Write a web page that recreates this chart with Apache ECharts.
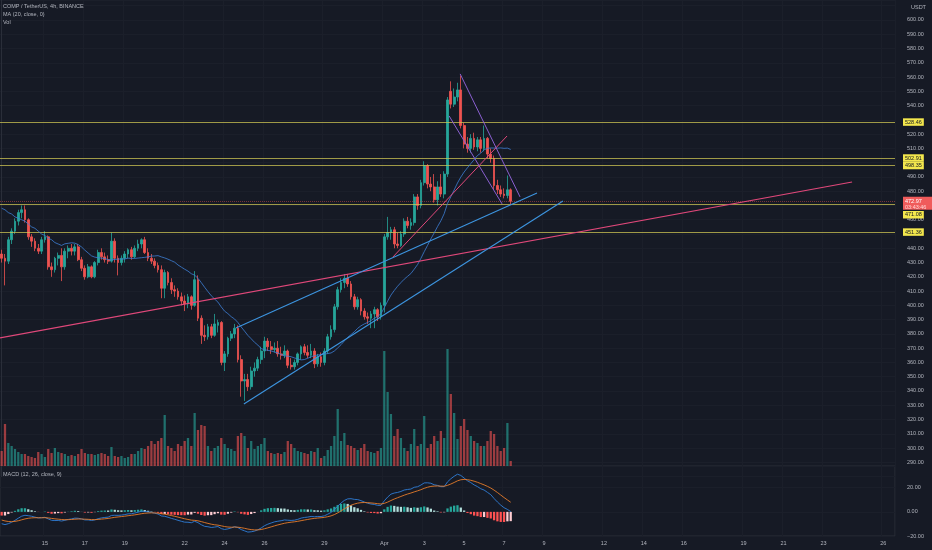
<!DOCTYPE html>
<html><head><meta charset="utf-8">
<script src="https://cdn.jsdelivr.net/npm/echarts@6/dist/echarts.min.js"></script>
<style>html,body{margin:0;padding:0;background:#161a25;}#c{width:932px;height:550px;}</style>
</head><body><div id="c"></div>
<script>
// ---- DATA ----
const opens  = [436,433,431,446,452,459,465,467,460,448,445,440,438,446,448,427,425,433,435,427,438,440,438,441,432,426,420,427,420,430,437,434,432,431,445,433,430,433,436,439,434,440,443,446,437,433,431,428,425,412,423,416,411,410,406,403,401,406,400,418,391,379,378,385,379,386,388,360,366,377,380,384,362,347,348,343,354,356,362,368,375,371,369,370,366,365,368,358,357,360,366,371,367,365,368,359,364,360,368,378,383,399,411,416,419,415,406,399,404,396,392,391,394,397,392,400,448,451,453,443,442,450,459,456,458,476,470,486,498,485,483,474,483,478,492,550,541,546,551,526,513,510,517,511,516,510,517,506,503,484,481,478,477,481];
const closes = [433,431,446,452,459,465,467,460,448,445,440,438,446,448,427,425,433,435,427,438,440,438,441,432,426,420,427,420,430,437,434,432,431,445,433,430,433,436,439,434,440,443,446,437,433,431,428,425,412,423,416,411,410,406,403,401,406,400,418,391,379,378,385,379,387,388,360,366,377,380,384,362,347,348,343,354,356,362,368,375,371,369,370,366,365,368,358,357,360,366,371,367,365,368,359,364,360,368,378,383,399,411,416,419,415,406,399,404,396,392,391,394,397,392,400,448,451,453,443,442,450,459,456,458,476,470,486,498,485,483,474,483,478,492,544,541,546,551,526,513,510,517,511,516,510,517,506,503,484,481,478,477,481,472.97];
const highs  = [439,436,448,454,461,467,470,470,461,450,447,443,448,452,449,430,434,437,440,440,442,443,443,443,434,428,429,428,431,439,440,437,435,451,447,435,435,438,440,441,442,446,447,448,440,436,433,430,428,425,424,419,414,412,409,407,408,407,424,421,393,386,387,387,394,390,389,368,378,382,387,386,365,352,352,357,360,364,371,378,377,375,374,375,371,372,369,363,362,367,372,373,372,373,370,366,367,370,380,386,401,413,419,422,422,417,408,406,405,398,395,396,399,398,402,450,462,455,455,451,452,461,462,461,478,478,488,501,499,490,492,487,492,494,546,557,552,556,561,528,518,520,521,518,518,526,518,510,505,488,484,482,491,482];
const lows   = [430,414,429,443,450,456,461,458,446,441,438,436,436,444,425,420,423,428,417,425,433,435,435,431,424,418,419,419,419,428,432,430,429,430,430,421,428,430,433,432,433,438,440,436,431,429,426,423,405,405,414,408,406,404,400,396,398,397,399,389,373,375,376,377,378,381,358,354,364,375,377,360,336,333,340,341,350,354,359,363,368,366,367,364,362,363,356,355,355,358,362,365,363,363,356,357,357,358,366,376,381,397,409,412,413,404,397,397,393,390,387,384,384,389,390,395,446,446,440,440,441,448,454,453,456,467,468,484,482,480,472,470,476,475,490,538,539,543,524,510,507,507,509,508,507,508,503,500,481,478,476,475,475,471];
const volumes = [15,42,23,20,17,14,12,12,10,9,8,
 14,12,9,17,13,18,14,13,12,10,
 11,10,12,17,13,12,12,11,12,13,
 12,10,19,10,9,10,8,9,12,12,
 15,18,17,20,25,22,25,28,51,20,
 18,15,22,20,25,28,20,53,36,41,
 40,20,15,18,20,28,22,18,17,15,
 30,33,30,18,25,17,20,22,28,15,
 13,12,13,12,14,25,22,18,15,14,
 13,12,15,14,18,8,10,16,20,30,
 57,25,33,21,20,18,16,18,22,15,
 14,13,15,18,115,74,52,30,37,28,
 18,15,22,37,20,22,50,18,22,30,
 25,35,28,117,72,53,27,40,47,36,
 30,25,23,20,20,25,35,32,20,15,
 18,43,5];
// MA(20) values for the first candles (earlier closes are off-screen)
const maHead = [468,467,465,464,462,461,460,459,457,455,454,452,450,449,447,446,444,443,442];
const emaSeed = [452,461,-6];
// horizontal levels drawn on the chart
const levels = [528.46, 502.91, 498.35, 471.08, 451.36];
const lastPrice = 472.97;
const countdown = '03:43:46';
// trendlines: [slotIndex, price] endpoints
const trendPinkLong  = [[-0.5,377.2],[255.6,486.5]];
const trendBlueUpper = [[70.4,384.2],[160.9,478.8]];
const trendBlueLower = [[72.8,330.9],[168.7,473.2]];
const trendPinkShort = [[117.6,433.9],[151.9,518.7]];
const trendPurpleA   = [[137.8,562.2],[155.8,476.0]];
const trendPurpleB   = [[134.5,532.7],[150.4,471.1]];
// time axis
const firstSlot = [2021,2,12,20];   // 2021-03-12 20:00, 4h candles
const slotCount = 269;
const dayKeys  = ['03-15','03-17','03-19','03-22','03-24','03-26','03-29','04-01','04-03','04-05','04-07','04-09','04-12','04-14','04-16','04-19','04-21','04-23','04-26'];
const dayTexts = ['15','17','19','22','24','26','29','Apr','3','5','7','9','12','14','16','19','21','23','26'];

// ---- build ----
const pad = n => (n<10?'0':'')+n;
const t0 = Date.UTC(firstSlot[0],firstSlot[1],firstSlot[2],firstSlot[3]);
const cats = [];
for (let k=0;k<slotCount;k++){ const d=new Date(t0+k*4*3600e3); cats.push(pad(d.getUTCMonth()+1)+'-'+pad(d.getUTCDate())+' '+pad(d.getUTCHours())); }
const labelMap = {}; dayKeys.forEach((k,i)=>labelMap[k+' 00']=dayTexts[i]);
const labelFn = (idx, val) => labelMap[val] !== undefined;

const candle = opens.map((o,i)=>[o, closes[i], lows[i], highs[i]]);
const ma = closes.map((c,i)=>{ if(i<19) return maHead[i]; let s=0; for(let j=i-19;j<=i;j++) s+=closes[j]; return +(s/20).toFixed(2); });
const macd=[], signal=[], hist=[];
let e12=emaSeed[0], e26=emaSeed[1], sg=emaSeed[2];
closes.forEach(c=>{ e12+=(c-e12)*2/13; e26+=(c-e26)*2/27; const m=e12-e26; sg+=(m-sg)*2/10; macd.push(+m.toFixed(3)); signal.push(+sg.toFixed(3)); hist.push(+(m-sg).toFixed(3)); });
const histData = hist.map((h,i)=>{ const p = i>0?hist[i-1]:h; let col; if(h>=0) col = p<h?'#26a69a':'#b2dfdb'; else col = p<h?'#ffcdd2':'#ff5252'; return {value:h, itemStyle:{color:col}}; });
const volData = volumes.map((v,i)=>({value:v, itemStyle:{color: closes[i]>=opens[i]?'rgba(38,166,154,0.62)':'rgba(239,83,80,0.62)'}}));

const FONT = 'Liberation Sans';
const txt = '#b2b5be';
const gridCol = '#1b1f2a';
const chart = echarts.init(document.getElementById('c'), null, {renderer:'canvas'});
const tl = (d,color,w) => ({type:'line', xAxisIndex:3, yAxisIndex:0, data:d, symbol:'none', silent:true, lineStyle:{color:color,width:w||1}, z:5});
const option = {
  backgroundColor:'#161a25',
  animation:false,
  grid:[
    {left:0,right:37,top:0,height:476.6},
    {left:0,right:37,top:340,height:126},
    {left:0,right:37,top:466,height:70,show:true,borderColor:'#2a2e39',borderWidth:1,backgroundColor:'rgba(0,0,0,0)'}
  ],
  xAxis:[
    {type:'category',gridIndex:0,data:cats,boundaryGap:true,axisLine:{show:false},axisTick:{show:false},axisLabel:{show:false},splitLine:{show:true,interval:labelFn,lineStyle:{color:gridCol,width:1}}},
    {type:'category',gridIndex:1,data:cats,boundaryGap:true,show:false},
    {type:'category',gridIndex:2,data:cats,boundaryGap:true,axisLine:{show:false},axisTick:{show:false},
      axisLabel:{interval:labelFn,formatter:v=>labelMap[v]||'',color:txt,fontSize:5.5,fontFamily:FONT,margin:4},
      splitLine:{show:true,interval:labelFn,lineStyle:{color:gridCol,width:1}}},
    {type:'value',gridIndex:0,min:-0.5,max:slotCount-0.5,show:false,position:'top'}
  ],
  yAxis:[
    {type:'value',gridIndex:0,position:'right',min:280,max:614,interval:10,
      axisLine:{show:true,lineStyle:{color:'#2a2e39'}},axisTick:{show:false},
      axisLabel:{color:txt,fontSize:5.5,fontFamily:FONT,margin:12,formatter:v=>{ if(v>600||v<290||v===530||v===500||v===470||v===450) return ''; return v.toFixed(2);} },
      splitLine:{show:true,lineStyle:{color:gridCol,width:1}}},
    {type:'value',gridIndex:1,min:0,max:126,show:false},
    {type:'value',gridIndex:2,position:'right',min:-20,max:38,interval:20,
      axisLine:{show:false},axisTick:{show:false},
      axisLabel:{color:txt,fontSize:5.5,fontFamily:FONT,margin:12,formatter:v=>(v%20===0? (v<0?'\u2212'+Math.abs(v).toFixed(2):v.toFixed(2)) : '')},
      splitLine:{show:true,lineStyle:{color:gridCol,width:1}}}
  ],
  series:[
    {type:'bar',name:'Vol',xAxisIndex:1,yAxisIndex:1,data:volData,barWidth:'68%',silent:true,z:1},
    {type:'candlestick',xAxisIndex:0,yAxisIndex:0,data:candle,barWidth:'68%',z:4,
      itemStyle:{color:'#26a69a',color0:'#ef5350',borderColor:'#26a69a',borderColor0:'#ef5350',borderWidth:0.8},
      markLine:{silent:true,symbol:'none',label:{show:false},animation:false,
        data:levels.map(v=>({yAxis:v,lineStyle:{color:'rgba(214,204,84,0.72)',width:1,type:'solid'}}))
          .concat([{yAxis:lastPrice,lineStyle:{color:'rgba(239,83,80,0.45)',width:1,type:'dotted'}}])}},
    {type:'line',xAxisIndex:0,yAxisIndex:0,data:ma,showSymbol:false,symbol:'none',silent:true,lineStyle:{color:'#3e7fd6',width:0.8},z:5},
    tl(trendPinkLong,'#e0487a',1.1),
    tl(trendBlueUpper,'#3d95e0',1.1),
    tl(trendBlueLower,'#3d95e0',1.1),
    tl(trendPinkShort,'#e0487a',1),
    tl(trendPurpleA,'#8a5fd0',1),
    tl(trendPurpleB,'#8a5fd0',1),
    {type:'bar',xAxisIndex:2,yAxisIndex:2,data:histData,barWidth:'68%',silent:true},
    {type:'line',xAxisIndex:2,yAxisIndex:2,data:macd,showSymbol:false,symbol:'none',silent:true,lineStyle:{color:'#2f7ed8',width:0.9}},
    {type:'line',xAxisIndex:2,yAxisIndex:2,data:signal,showSymbol:false,symbol:'none',silent:true,lineStyle:{color:'#e57c2a',width:0.9}}
  ]
};
chart.setOption(option);

// axis price labels and legends
const py = v => chart.convertToPixel({yAxisIndex:0}, v);
const yLab = (text, y) => ({type:'text',silent:true,z:100,style:{x:903,y:y,text:text,fill:'#131722',fontSize:5.5,fontFamily:FONT,backgroundColor:'#f3e74d',padding:[1,2,0.5,2],verticalAlign:'middle',align:'left'}});
const gText = (text, x, y, color, size) => ({type:'text',silent:true,z:100,style:{x:x,y:y,text:text,fill:color||txt,fontSize:size||5.5,fontFamily:FONT,verticalAlign:'middle'}});
const yLast = py(lastPrice);
const graphics = [
  gText('COMP / TetherUS, 4h, BINANCE',3,6.7),
  gText('MA (20, close, 0)',3,14.7),
  gText('Vol',3,22.4),
  gText('MACD (12, 26, close, 9)',3,474),
  gText('USDT',911,7),
  yLab(levels[0].toFixed(2), py(levels[0])),
  yLab(levels[1].toFixed(2), py(levels[1])-0.5),
  yLab(levels[2].toFixed(2), py(levels[2])+0.5),
  yLab(levels[4].toFixed(2), py(levels[4])),
  {type:'rect',silent:true,z:100,shape:{x:903,y:yLast-4.5,width:29,height:13},style:{fill:'#f05b5b'}},
  gText(lastPrice.toFixed(2),905,yLast,'#ffffff',5.5),
  gText(countdown,905,yLast+6,'#ffd7d7',5.5),
  yLab(levels[3].toFixed(2), yLast+13.5)
];
chart.setOption({graphic:graphics});
</script>
</body></html>
